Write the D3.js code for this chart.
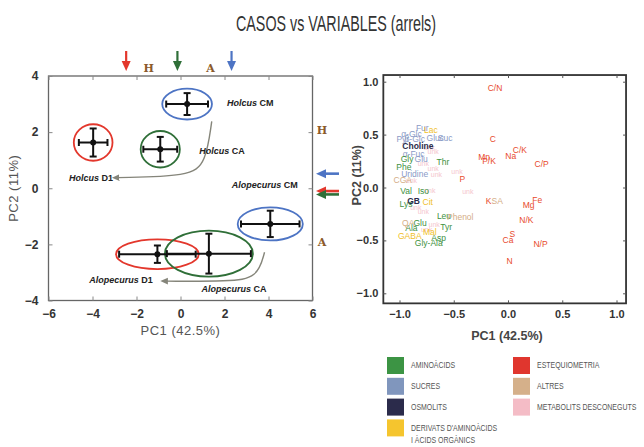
<!DOCTYPE html>
<html>
<head>
<meta charset="utf-8">
<script src="https://cdn.jsdelivr.net/npm/d3@7"></script>
<style>
  body { margin: 0; background: #fff; }
  svg { display: block; }
</style>
</head>
<body>
<svg id="chart" width="644" height="447"></svg>
<script>
// ---- cases (left panel) ----
const caseNames = ["Holcus CM", "Holcus CA", "Holcus D1", "Alopecurus CM", "Alopecurus D1", "Alopecurus CA"];
const caseTreat = ["CM", "CA", "D1", "CM", "D1", "CA"];
const pc1Mean = [0.30, -0.92, -3.97, 4.08, -1.05, 1.29];
const pc2Mean = [3.00, 1.39, 1.63, -1.27, -2.35, -2.33];
const pc1Err  = [0.95, 0.77, 0.65, 1.33, 1.74, 1.91];
const pc2Err  = [0.39, 0.44, 0.50, 0.47, 0.31, 0.71];
const ellRx   = [1.13, 0.89, 0.88, 1.48, 1.88, 2.00];
const ellRy   = [0.55, 0.65, 0.65, 0.59, 0.53, 0.82];
const caseLabX = [2.11, 0.85, -5.07, 2.33, -4.15, 0.95];
const caseLabY = [3.04, 1.31, 0.36, 0.11, -3.26, -3.59];

// shift arrows (CM -> D1) in PC space
const arrowHolcus = [[1.42, 2.38], [1.15, 0.9], [0.4, 0.42], [-2.85, 0.38]];
const arrowAlop   = [[3.82, -2.28], [3.5, -3.2], [2.2, -3.32], [-0.65, -3.31]];

// marginal markers
const topArrowPc1 = [-2.47, -0.14, 2.32];
const topArrowTreat = ["D1", "CA", "CM"];
const topLetters = ["H", "A"];
const topLetterPc1 = [-1.45, 1.36];
const sideArrowPc2 = [0.52, -0.10, -0.22];
const sideArrowTreat = ["CM", "D1", "CA"];
const sideLetterPc2 = [2.05, -1.95];

const leftTicksX = [-6, -4, -2, 0, 2, 4, 6];
const leftTicksY = [-4, -2, 0, 2, 4];

// ---- variables (right panel) ----
const aminoacids = [
  ["Gly", -0.93, 0.27], ["Thr", -0.60, 0.24], ["Phe", -0.96, 0.19], ["Val", -0.94, -0.03],
  ["Iso", -0.78, -0.03], ["Lys", -0.94, -0.155], ["Leu", -0.59, -0.27], ["Glu", -0.81, -0.34],
  ["Ala", -0.89, -0.385], ["Tyr", -0.57, -0.375], ["Asp", -0.64, -0.48], ["Gly-Ala", -0.73, -0.52]
];
const sucres = [
  ["α-Glc", -0.89, 0.51], ["Fur", -0.79, 0.56], ["Pyr", -0.97, 0.46], ["β-Glc", -0.86, 0.46],
  ["Gluc", -0.67, 0.47], ["Suc", -0.58, 0.47], ["α-Fuc", -0.87, 0.32], ["Glu", -0.80, 0.27],
  ["Uridine", -0.86, 0.13]
];
const osmolits = [["Choline", -0.83, 0.39], ["GB", -0.87, -0.13]];
const derivats = [["Lac", -0.71, 0.54], ["Cit", -0.74, -0.14], ["GABA", -0.905, -0.46], ["Mal", -0.72, -0.42]];
const altres = [["CGA", -0.97, 0.07], ["Phenol", -0.44, -0.28], ["QA", -0.92, -0.34], ["SA", -0.10, -0.13]];
const estequiometria = [
  ["C/N", -0.12, 0.94], ["C", -0.14, 0.46], ["Mn", -0.22, 0.29], ["P/K", -0.175, 0.25],
  ["Na", 0.025, 0.30], ["C/K", 0.11, 0.35], ["C/P", 0.31, 0.22], ["P", -0.42, 0.08],
  ["K", -0.18, -0.13], ["Fe", 0.27, -0.12], ["Mg", 0.19, -0.17], ["N/K", 0.17, -0.31],
  ["S", 0.04, -0.44], ["Ca", 0.00, -0.50], ["N/P", 0.30, -0.53], ["N", 0.015, -0.69]
];
const desconeguts = [
  ["unk", -0.78, 0.23], ["unk", -0.69, 0.34], ["unk", -0.69, 0.18], ["unk", -0.47, 0.155],
  ["unk", -0.37, -0.04], ["unk", -0.66, 0.125], ["unk", -0.89, 0.07], ["unk", -0.72, -0.03],
  ["unk", -0.85, -0.19], ["unk", -0.78, -0.23], ["unk", -0.68, -0.35], ["unk", -0.75, -0.40],
  ["unk", -0.725, 0.38]
];
const rightTicks = [-1.0, -0.5, 0.0, 0.5, 1.0];

const legendNames = ["AMINOÀCIDS", "SUCRES", "OSMOLITS", "DERIVATS D'AMINOÀCIDS|I ÀCIDS ORGÀNICS",
                     "ESTEQUIOMETRIA", "ALTRES", "METABOLITS DESCONEGUTS"];

// ---- styles ----
const treatColor = { CM: "#4d74c4", CA: "#2f6f38", D1: "#e3372c" };
const groupColor = ["#3c9444", "#8096bd", "#2b2b4b", "#f5c52e", "#e0362e", "#d5b08a", "#f4bcc6"];
const groupText  = ["#3d9140", "#8a9ac6", "#2b2b4b", "#f0bf2a", "#e84a2c", "#d4ad86", "#f5c6ce"];
const letterColor = "#8b5a2b";

const svg = d3.select("#chart");

svg.append("text")
  .attr("x", 336).attr("y", 31)
  .attr("text-anchor", "middle")
  .attr("textLength", 200).attr("lengthAdjust", "spacingAndGlyphs")
  .style("font-family", "'Liberation Sans', Arial, sans-serif")
  .style("font-size", "22px")
  .style("fill", "#333")
  .text("CASOS vs VARIABLES (arrels)");

// =============== left panel ===============
const xL = d3.scaleLinear().domain([-6, 6]).range([48.5, 312.5]);
const yL = d3.scaleLinear().domain([-4, 4]).range([300.5, 76]);
const left = svg.append("g");

left.append("rect")
  .attr("x", xL(-6)).attr("y", yL(4))
  .attr("width", xL(6) - xL(-6)).attr("height", yL(-4) - yL(4))
  .attr("fill", "none").attr("stroke", "#666").attr("stroke-width", 1.3);

function styleAxis(g, show) {
  g.select(".domain").remove();
  g.selectAll(".tick line").attr("stroke", "#888");
  g.selectAll(".tick text")
    .style("font-family", "'Liberation Sans', Arial, sans-serif")
    .style("font-weight", "bold")
    .style("font-size", "12px")
    .style("fill", "#333");
  if (!show) g.selectAll(".tick text").remove();
}

left.append("g").attr("transform", `translate(0,${yL(-4)})`)
  .call(d3.axisBottom(xL).tickValues(leftTicksX).tickSizeInner(-4).tickSizeOuter(0).tickPadding(9))
  .call(g => styleAxis(g, true));
left.append("g").attr("transform", `translate(0,${yL(4)})`)
  .call(d3.axisTop(xL).tickValues(leftTicksX).tickSizeInner(-4).tickSizeOuter(0))
  .call(g => styleAxis(g, false));
left.append("g").attr("transform", `translate(${xL(-6)},0)`)
  .call(d3.axisLeft(yL).tickValues(leftTicksY).tickSizeInner(-4).tickSizeOuter(0).tickPadding(10))
  .call(g => styleAxis(g, true));
left.append("g").attr("transform", `translate(${xL(6)},0)`)
  .call(d3.axisRight(yL).tickValues(leftTicksY).tickSizeInner(-4).tickSizeOuter(0))
  .call(g => styleAxis(g, false));

left.append("text")
  .attr("x", (xL(-6) + xL(6)) / 2).attr("y", 335)
  .attr("text-anchor", "middle")
  .style("font-family", "'Liberation Sans', Arial, sans-serif")
  .style("font-size", "13px").style("letter-spacing", "0.5px").style("fill", "#555")
  .text("PC1 (42.5%)");
left.append("text")
  .attr("transform", `translate(18,${(yL(4) + yL(-4)) / 2}) rotate(-90)`)
  .attr("text-anchor", "middle")
  .style("font-family", "'Liberation Sans', Arial, sans-serif")
  .style("font-size", "13px").style("letter-spacing", "0.5px").style("fill", "#555")
  .text("PC2 (11%)");

// arrow marker for the shift arrows
const defs = svg.append("defs");
defs.append("marker")
  .attr("id", "head").attr("viewBox", "0 0 10 10")
  .attr("refX", 2).attr("refY", 5)
  .attr("markerWidth", 6).attr("markerHeight", 6)
  .attr("orient", "auto-start-reverse")
  .append("path").attr("d", "M0,1 L9,5 L0,9 Z").attr("fill", "#85857a");

const curve = d3.line().x(d => xL(d[0])).y(d => yL(d[1])).curve(d3.curveBasis);
[arrowHolcus, arrowAlop].forEach(a => {
  left.append("path")
    .attr("d", curve(a))
    .attr("fill", "none").attr("stroke", "#85857a").attr("stroke-width", 1.4)
    .attr("marker-end", "url(#head)");
});

// ellipses
caseNames.forEach((n, i) => {
  left.append("ellipse")
    .attr("cx", xL(pc1Mean[i])).attr("cy", yL(pc2Mean[i]))
    .attr("rx", xL(pc1Mean[i] + ellRx[i]) - xL(pc1Mean[i]))
    .attr("ry", yL(pc2Mean[i]) - yL(pc2Mean[i] + ellRy[i]))
    .attr("fill", "none").attr("stroke", treatColor[caseTreat[i]]).attr("stroke-width", 1.8);
});

// error bars
caseNames.forEach((n, i) => {
  const g = left.append("g").attr("stroke", "#111").attr("stroke-width", 2);
  const cx = xL(pc1Mean[i]), cy = yL(pc2Mean[i]);
  const x0 = xL(pc1Mean[i] - pc1Err[i]), x1 = xL(pc1Mean[i] + pc1Err[i]);
  const y0 = yL(pc2Mean[i] - pc2Err[i]), y1 = yL(pc2Mean[i] + pc2Err[i]);
  g.append("line").attr("x1", x0).attr("x2", x1).attr("y1", cy).attr("y2", cy);
  g.append("line").attr("x1", cx).attr("x2", cx).attr("y1", y0).attr("y2", y1);
  g.append("line").attr("x1", x0).attr("x2", x0).attr("y1", cy - 3.5).attr("y2", cy + 3.5);
  g.append("line").attr("x1", x1).attr("x2", x1).attr("y1", cy - 3.5).attr("y2", cy + 3.5);
  g.append("line").attr("x1", cx - 3.5).attr("x2", cx + 3.5).attr("y1", y0).attr("y2", y0);
  g.append("line").attr("x1", cx - 3.5).attr("x2", cx + 3.5).attr("y1", y1).attr("y2", y1);
  left.append("circle").attr("cx", cx).attr("cy", cy).attr("r", 3).attr("fill", "#111");
});

// case labels
caseNames.forEach((n, i) => {
  const parts = n.split(" ");
  const t = left.append("text")
    .attr("x", xL(caseLabX[i])).attr("y", yL(caseLabY[i]))
    .attr("dominant-baseline", "central")
    .style("font-family", "'Liberation Sans', Arial, sans-serif")
    .style("font-size", "9px").style("font-weight", "bold").style("fill", "#222");
  t.append("tspan").style("font-style", "italic").text(parts[0]);
  t.append("tspan").text(" " + parts[1]);
});

// marginal arrows
function vArrow(g, x, y0, y1, color) {
  g.append("line").attr("x1", x).attr("x2", x).attr("y1", y0).attr("y2", y1 - 8)
    .attr("stroke", color).attr("stroke-width", 2.2);
  g.append("path").attr("d", `M${x - 4.5},${y1 - 10} L${x + 4.5},${y1 - 10} L${x},${y1} Z`).attr("fill", color);
}
function hArrow(g, x0, x1, y, color) {
  g.append("line").attr("x1", x1).attr("x2", x0 + 8).attr("y1", y).attr("y2", y)
    .attr("stroke", color).attr("stroke-width", 2.6);
  g.append("path").attr("d", `M${x0 + 10},${y - 4.5} L${x0 + 10},${y + 4.5} L${x0},${y} Z`).attr("fill", color);
}
topArrowPc1.forEach((v, i) => vArrow(left, xL(v), 51, 71, treatColor[topArrowTreat[i]]));
sideArrowPc2.forEach((v, i) => hArrow(left, 316, 339, yL(v), treatColor[sideArrowTreat[i]]));

const letterStyle = t => t
  .attr("text-anchor", "middle").attr("dominant-baseline", "central")
  .style("font-family", "'DejaVu Serif', 'Liberation Serif', serif")
  .style("font-weight", "bold").style("font-size", "11px").style("fill", letterColor);
topLetterPc1.forEach((v, i) => left.append("text").attr("x", xL(v)).attr("y", 68).text(topLetters[i]).call(letterStyle));
sideLetterPc2.forEach((v, i) => left.append("text").attr("x", 322).attr("y", yL(v)).text(topLetters[i]).call(letterStyle));

// =============== right panel ===============
const xR = d3.scaleLinear().domain([-1, 1]).range([399.5, 616.5]);
const yR = d3.scaleLinear().domain([-1, 1]).range([293.3, 81.7]);
const right = svg.append("g");
const xMin = -1.149, xMax = 1.088, yMin = -1.095, yMax = 1.063;

right.append("rect")
  .attr("x", xR(xMin)).attr("y", yR(yMax))
  .attr("width", xR(xMax) - xR(xMin)).attr("height", yR(yMin) - yR(yMax))
  .attr("fill", "none").attr("stroke", "#333").attr("stroke-width", 1.8);

function styleAxisR(g, show) {
  g.select(".domain").remove();
  g.selectAll(".tick line").attr("stroke", "#555");
  g.selectAll(".tick text")
    .style("font-family", "'Liberation Sans', Arial, sans-serif")
    .style("font-size", "11px").style("font-weight", "bold")
    .style("fill", "#333");
  if (!show) g.selectAll(".tick text").remove();
}
const fmt = d3.format(".1f");
right.append("g").attr("transform", `translate(0,${yR(yMin)})`)
  .call(d3.axisBottom(xR).tickValues(rightTicks).tickFormat(fmt).tickSizeInner(-3).tickSizeOuter(0).tickPadding(7))
  .call(g => styleAxisR(g, true));
right.append("g").attr("transform", `translate(0,${yR(yMax)})`)
  .call(d3.axisTop(xR).tickValues(rightTicks).tickSizeInner(-3).tickSizeOuter(0))
  .call(g => styleAxisR(g, false));
right.append("g").attr("transform", `translate(${xR(xMin)},0)`)
  .call(d3.axisLeft(yR).tickValues(rightTicks).tickFormat(fmt).tickSizeInner(-3).tickSizeOuter(0).tickPadding(5))
  .call(g => styleAxisR(g, true));
right.append("g").attr("transform", `translate(${xR(xMax)},0)`)
  .call(d3.axisRight(yR).tickValues(rightTicks).tickSizeInner(-3).tickSizeOuter(0))
  .call(g => styleAxisR(g, false));

right.append("text")
  .attr("x", 507).attr("y", 340)
  .attr("text-anchor", "middle")
  .style("font-family", "'Liberation Sans', Arial, sans-serif")
  .style("font-size", "12.5px").style("font-weight", "bold").style("fill", "#444")
  .text("PC1 (42.5%)");
right.append("text")
  .attr("transform", `translate(361,${(yR(yMax) + yR(yMin)) / 2 - 14}) rotate(-90)`)
  .attr("text-anchor", "middle")
  .style("font-family", "'Liberation Sans', Arial, sans-serif")
  .style("font-size", "12.5px").style("font-weight", "bold").style("fill", "#444")
  .text("PC2 (11%)");

const varGroups = [aminoacids, sucres, osmolits, derivats, estequiometria, altres, desconeguts];
const groupOrder = [6, 1, 0, 2, 3, 5, 4]; // draw unknowns first, stoichiometry last
groupOrder.forEach(gi => {
  right.append("g").selectAll("text")
    .data(varGroups[gi])
    .join("text")
    .attr("x", d => xR(d[1])).attr("y", d => yR(d[2]))
    .attr("text-anchor", "middle").attr("dominant-baseline", "central")
    .style("font-family", "'Liberation Sans', Arial, sans-serif")
    .style("font-size", gi === 6 ? "7px" : "8.5px")
    .style("font-weight", gi === 2 ? "bold" : "normal")
    .style("fill", groupText[gi])
    .text(d => d[0]);
});

// =============== legend ===============
const legend = svg.append("g")
  .style("font-family", "'Liberation Sans', Arial, sans-serif")
  .style("font-size", "8.5px").style("fill", "#555");
legendNames.forEach((name, i) => {
  const col = i < 4 ? 0 : 1;
  const row = i < 4 ? i : i - 4;
  const x = col === 0 ? 387 : 513;
  const y = 357 + row * 20.8;
  legend.append("rect").attr("x", x).attr("y", y).attr("width", 17).attr("height", 17)
    .attr("fill", groupColor[i]);
  const lines = name.split("|");
  lines.forEach((l, k) => {
    legend.append("text")
      .attr("transform", `translate(${x + 24},${y + 8.5 + k * 12}) scale(0.82,1)`)
      .attr("dominant-baseline", "central").text(l);
  });
});
</script>
</body>
</html>
